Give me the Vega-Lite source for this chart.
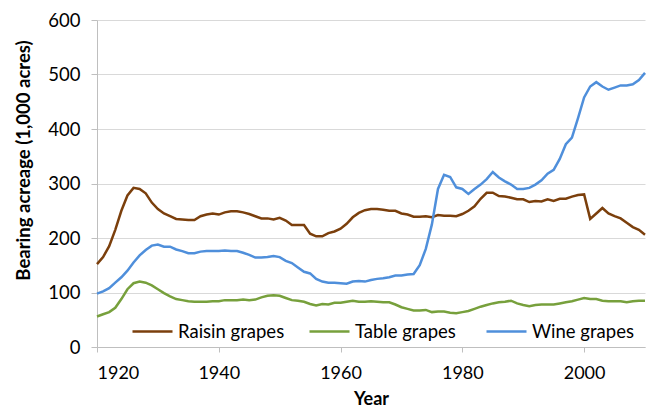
{
  "$schema": "https://vega.github.io/schema/vega-lite/v6.json",
  "width": 548,
  "height": 327,
  "autosize": {"type": "none"},
  "padding": {"left": 97, "top": 20, "right": 3, "bottom": 62},
  "background": "white",
  "config": {
    "font": "Lato",
    "view": {"stroke": null},
    "axis": {"labelFont": "Lato", "titleFont": "Lato", "labelColor": "#000000", "titleColor": "#000000"}
  },
  "data": {
    "values": [
      {"year": 1920, "Raisin grapes": 152, "Table grapes": 56, "Wine grapes": 98},
      {"year": 1921, "Raisin grapes": 165, "Table grapes": 60, "Wine grapes": 102},
      {"year": 1922, "Raisin grapes": 185, "Table grapes": 64, "Wine grapes": 108},
      {"year": 1923, "Raisin grapes": 215, "Table grapes": 72, "Wine grapes": 118},
      {"year": 1924, "Raisin grapes": 250, "Table grapes": 88, "Wine grapes": 128},
      {"year": 1925, "Raisin grapes": 278, "Table grapes": 106, "Wine grapes": 140},
      {"year": 1926, "Raisin grapes": 292, "Table grapes": 117, "Wine grapes": 155},
      {"year": 1927, "Raisin grapes": 290, "Table grapes": 120, "Wine grapes": 168},
      {"year": 1928, "Raisin grapes": 282, "Table grapes": 118, "Wine grapes": 178},
      {"year": 1929, "Raisin grapes": 265, "Table grapes": 113, "Wine grapes": 186},
      {"year": 1930, "Raisin grapes": 253, "Table grapes": 106, "Wine grapes": 188},
      {"year": 1931, "Raisin grapes": 245, "Table grapes": 99, "Wine grapes": 184},
      {"year": 1932, "Raisin grapes": 240, "Table grapes": 93, "Wine grapes": 184},
      {"year": 1933, "Raisin grapes": 235, "Table grapes": 88, "Wine grapes": 179},
      {"year": 1934, "Raisin grapes": 234, "Table grapes": 86, "Wine grapes": 176},
      {"year": 1935, "Raisin grapes": 233, "Table grapes": 84, "Wine grapes": 172},
      {"year": 1936, "Raisin grapes": 233, "Table grapes": 83, "Wine grapes": 172},
      {"year": 1937, "Raisin grapes": 240, "Table grapes": 83, "Wine grapes": 175},
      {"year": 1938, "Raisin grapes": 243, "Table grapes": 83, "Wine grapes": 176},
      {"year": 1939, "Raisin grapes": 245, "Table grapes": 84, "Wine grapes": 176},
      {"year": 1940, "Raisin grapes": 243, "Table grapes": 84, "Wine grapes": 176},
      {"year": 1941, "Raisin grapes": 247, "Table grapes": 86, "Wine grapes": 177},
      {"year": 1942, "Raisin grapes": 249, "Table grapes": 86, "Wine grapes": 176},
      {"year": 1943, "Raisin grapes": 249, "Table grapes": 86, "Wine grapes": 176},
      {"year": 1944, "Raisin grapes": 247, "Table grapes": 87, "Wine grapes": 173},
      {"year": 1945, "Raisin grapes": 244, "Table grapes": 86, "Wine grapes": 169},
      {"year": 1946, "Raisin grapes": 240, "Table grapes": 87, "Wine grapes": 164},
      {"year": 1947, "Raisin grapes": 236, "Table grapes": 91, "Wine grapes": 164},
      {"year": 1948, "Raisin grapes": 236, "Table grapes": 94, "Wine grapes": 165},
      {"year": 1949, "Raisin grapes": 234, "Table grapes": 95, "Wine grapes": 167},
      {"year": 1950, "Raisin grapes": 237, "Table grapes": 94, "Wine grapes": 165},
      {"year": 1951, "Raisin grapes": 232, "Table grapes": 90, "Wine grapes": 158},
      {"year": 1952, "Raisin grapes": 224, "Table grapes": 86, "Wine grapes": 154},
      {"year": 1953, "Raisin grapes": 224, "Table grapes": 85, "Wine grapes": 146},
      {"year": 1954, "Raisin grapes": 224, "Table grapes": 83, "Wine grapes": 138},
      {"year": 1955, "Raisin grapes": 208, "Table grapes": 79, "Wine grapes": 135},
      {"year": 1956, "Raisin grapes": 203, "Table grapes": 76, "Wine grapes": 125},
      {"year": 1957, "Raisin grapes": 203, "Table grapes": 79, "Wine grapes": 120},
      {"year": 1958, "Raisin grapes": 209, "Table grapes": 78, "Wine grapes": 118},
      {"year": 1959, "Raisin grapes": 212, "Table grapes": 81, "Wine grapes": 118},
      {"year": 1960, "Raisin grapes": 217, "Table grapes": 81, "Wine grapes": 117},
      {"year": 1961, "Raisin grapes": 226, "Table grapes": 83, "Wine grapes": 116},
      {"year": 1962, "Raisin grapes": 238, "Table grapes": 85, "Wine grapes": 120},
      {"year": 1963, "Raisin grapes": 246, "Table grapes": 83, "Wine grapes": 121},
      {"year": 1964, "Raisin grapes": 251, "Table grapes": 83, "Wine grapes": 120},
      {"year": 1965, "Raisin grapes": 253, "Table grapes": 84, "Wine grapes": 123},
      {"year": 1966, "Raisin grapes": 253, "Table grapes": 83, "Wine grapes": 125},
      {"year": 1967, "Raisin grapes": 252, "Table grapes": 82, "Wine grapes": 126},
      {"year": 1968, "Raisin grapes": 250, "Table grapes": 82, "Wine grapes": 128},
      {"year": 1969, "Raisin grapes": 250, "Table grapes": 78, "Wine grapes": 131},
      {"year": 1970, "Raisin grapes": 245, "Table grapes": 73, "Wine grapes": 131},
      {"year": 1971, "Raisin grapes": 243, "Table grapes": 70, "Wine grapes": 133},
      {"year": 1972, "Raisin grapes": 239, "Table grapes": 67, "Wine grapes": 134},
      {"year": 1973, "Raisin grapes": 239, "Table grapes": 67, "Wine grapes": 150},
      {"year": 1974, "Raisin grapes": 240, "Table grapes": 68, "Wine grapes": 180},
      {"year": 1975, "Raisin grapes": 238, "Table grapes": 64, "Wine grapes": 225},
      {"year": 1976, "Raisin grapes": 242, "Table grapes": 65, "Wine grapes": 290},
      {"year": 1977, "Raisin grapes": 241, "Table grapes": 65, "Wine grapes": 316},
      {"year": 1978, "Raisin grapes": 241, "Table grapes": 63, "Wine grapes": 312},
      {"year": 1979, "Raisin grapes": 240, "Table grapes": 62, "Wine grapes": 293},
      {"year": 1980, "Raisin grapes": 244, "Table grapes": 64, "Wine grapes": 290},
      {"year": 1981, "Raisin grapes": 250, "Table grapes": 66, "Wine grapes": 281},
      {"year": 1982, "Raisin grapes": 258, "Table grapes": 70, "Wine grapes": 290},
      {"year": 1983, "Raisin grapes": 272, "Table grapes": 74, "Wine grapes": 298},
      {"year": 1984, "Raisin grapes": 283, "Table grapes": 77, "Wine grapes": 308},
      {"year": 1985, "Raisin grapes": 283, "Table grapes": 80, "Wine grapes": 321},
      {"year": 1986, "Raisin grapes": 277, "Table grapes": 82, "Wine grapes": 311},
      {"year": 1987, "Raisin grapes": 276, "Table grapes": 83, "Wine grapes": 304},
      {"year": 1988, "Raisin grapes": 274, "Table grapes": 85, "Wine grapes": 298},
      {"year": 1989, "Raisin grapes": 271, "Table grapes": 80, "Wine grapes": 290},
      {"year": 1990, "Raisin grapes": 271, "Table grapes": 77, "Wine grapes": 290},
      {"year": 1991, "Raisin grapes": 266, "Table grapes": 75, "Wine grapes": 292},
      {"year": 1992, "Raisin grapes": 268, "Table grapes": 77, "Wine grapes": 298},
      {"year": 1993, "Raisin grapes": 267, "Table grapes": 78, "Wine grapes": 306},
      {"year": 1994, "Raisin grapes": 271, "Table grapes": 78, "Wine grapes": 318},
      {"year": 1995, "Raisin grapes": 268, "Table grapes": 78, "Wine grapes": 325},
      {"year": 1996, "Raisin grapes": 272, "Table grapes": 80, "Wine grapes": 345},
      {"year": 1997, "Raisin grapes": 272, "Table grapes": 82, "Wine grapes": 372},
      {"year": 1998, "Raisin grapes": 276, "Table grapes": 84, "Wine grapes": 384},
      {"year": 1999, "Raisin grapes": 279, "Table grapes": 87, "Wine grapes": 420},
      {"year": 2000, "Raisin grapes": 280, "Table grapes": 90, "Wine grapes": 458},
      {"year": 2001, "Raisin grapes": 235, "Table grapes": 88, "Wine grapes": 478},
      {"year": 2002, "Raisin grapes": 245, "Table grapes": 88, "Wine grapes": 486},
      {"year": 2003, "Raisin grapes": 255, "Table grapes": 85, "Wine grapes": 478},
      {"year": 2004, "Raisin grapes": 245, "Table grapes": 84, "Wine grapes": 472},
      {"year": 2005, "Raisin grapes": 240, "Table grapes": 84, "Wine grapes": 476},
      {"year": 2006, "Raisin grapes": 236, "Table grapes": 84, "Wine grapes": 480},
      {"year": 2007, "Raisin grapes": 228, "Table grapes": 82, "Wine grapes": 480},
      {"year": 2008, "Raisin grapes": 220, "Table grapes": 84, "Wine grapes": 482},
      {"year": 2009, "Raisin grapes": 215, "Table grapes": 85, "Wine grapes": 490},
      {"year": 2010, "Raisin grapes": 206, "Table grapes": 85, "Wine grapes": 503}
    ]
  },
  "transform": [
    {"fold": ["Raisin grapes", "Table grapes", "Wine grapes"], "as": ["series", "value"]}
  ],
  "mark": {"type": "line", "strokeWidth": 2.5},
  "encoding": {
    "x": {
      "field": "year",
      "type": "quantitative",
      "scale": {"domain": [1920, 2010], "nice": false, "zero": false},
      "axis": {
        "title": "Year",
        "values": [1920, 1940, 1960, 1980, 2000],
        "format": "d",
        "grid": false,
        "domainColor": "#bfbfbf",
        "tickColor": "#bfbfbf",
        "tickSize": 5,
        "labelFontSize": 18,
        "labelPadding": 12,
        "titleFontSize": 18,
        "titleFontWeight": "bold",
        "titlePadding": 8
      }
    },
    "y": {
      "field": "value",
      "type": "quantitative",
      "scale": {"domain": [0, 600], "nice": false},
      "axis": {
        "title": "Bearing acreage (1,000 acres)",
        "values": [0, 100, 200, 300, 400, 500, 600],
        "gridColor": "#d9d9d9",
        "domainColor": "#bfbfbf",
        "tickColor": "#bfbfbf",
        "tickSize": 6,
        "labelFontSize": 18.5,
        "labelPadding": 11,
        "titleFontSize": 18.5,
        "titleFontWeight": "bold",
        "titlePadding": 14,
        "titleY": 140
      }
    },
    "color": {
      "field": "series",
      "type": "nominal",
      "scale": {
        "domain": ["Raisin grapes", "Table grapes", "Wine grapes"],
        "range": ["#7B3F0C", "#77A03C", "#4F8FDB"]
      },
      "legend": {
        "title": null,
        "orient": "none",
        "direction": "horizontal",
        "legendX": 34,
        "legendY": 290,
        "gridAlign": "all",
        "symbolType": "stroke",
        "symbolStrokeWidth": 2.5,
        "symbolSize": 1600,
        "labelFontSize": 18.5,
        "labelFont": "Lato",
        "labelColor": "#000000",
        "labelOffset": 4,
        "columnPadding": 19
      }
    }
  }
}
